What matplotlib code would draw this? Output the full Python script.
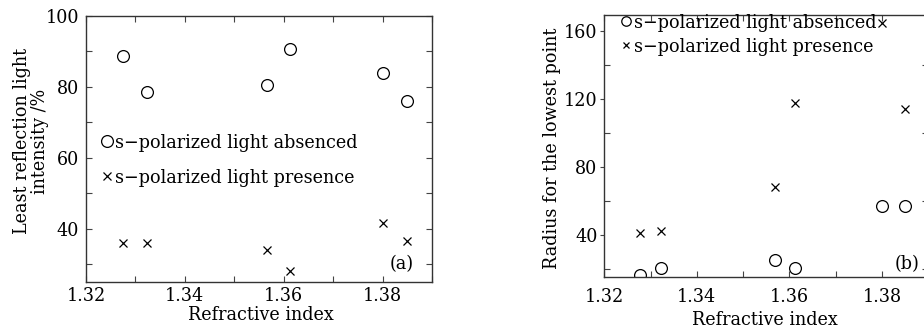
import matplotlib
matplotlib.use("Agg")
import matplotlib.pyplot as plt
from matplotlib.ticker import MultipleLocator

plt.rcParams['font.family'] = ['DejaVu Serif']
plt.rcParams['font.stretch'] = 'condensed'

# Panel (a)
n_a = [1.3275, 1.3323, 1.3567, 1.3613, 1.3800, 1.3849]
absent_a = [88.5, 78.5, 80.6, 90.7, 83.9, 76.0]
present_a = [35.8, 36.0, 33.8, 27.9, 41.5, 36.4]

# Panel (b)
n_b = [1.3278, 1.3323, 1.3568, 1.3613, 1.3800, 1.3850]
absent_b = [16.3, 20.2, 24.9, 20.4, 57.1, 57.1]
present_b = [41.2, 42.5, 68.4, 117.8, 164.5, 114.1]

lab_abs = "s\u2212polarized light absenced"
lab_pre = "s\u2212polarized light presence"

W, H = 924, 333
fig = plt.figure(figsize=(W / 100, H / 100), dpi=100)
fig.patch.set_facecolor('white')

fs = 14

def style(ax):
    for s in ax.spines.values():
        s.set_linewidth(1.0)
        s.set_color('#333333')
    ax.tick_params(which='both', direction='in', top=True, right=True,
                   labelsize=fs, width=0.8, color='#444444')
    ax.tick_params(which='major', length=4)
    ax.tick_params(which='minor', length=4)

# ---- left
x0a, wa, yba, ha_ = 86, 346, 281.7, 266
ax1 = fig.add_axes([x0a / W, (H - yba) / H, wa / W, ha_ / H])
ax1.plot(n_a, absent_a, 'o', mfc='none', mec='black', ms=8.5, mew=0.9, label=lab_abs)
ax1.plot(n_a, present_a, 'x', color='black', ms=6, mew=0.9, label=lab_pre)
ax1.set_xlim(1.32, 1.39)
ax1.set_ylim(25, 100)
ax1.set_xticks([1.32, 1.34, 1.36, 1.38])
ax1.set_xticklabels(['1.32', '1.34', '1.36', '1.38'])
ax1.xaxis.set_minor_locator(MultipleLocator(0.01))
ax1.set_yticks([40, 60, 80, 100])
ax1.yaxis.set_minor_locator(MultipleLocator(10))
style(ax1)
ax1.tick_params(axis='y', pad=5)
ax1.tick_params(axis='x', pad=4)
ax1.set_xlabel("Refractive index", fontsize=fs)
ax1.xaxis.label.set_va('center')
ax1.xaxis.set_label_coords(0.506, (yba - 315) / ha_)
ax1.set_ylabel("Least reflection light\nintensity /%", fontsize=fs, linespacing=1.0)
ax1.yaxis.label.set_va('center')
ax1.yaxis.set_label_coords((31.3 - x0a) / wa, 0.529)
ax1.legend(loc='upper left', bbox_to_anchor=(0.047, 0.555), frameon=False,
           fontsize=fs, handlelength=0.5, handletextpad=0.15, labelspacing=0.86,
           borderpad=0, borderaxespad=0)
ax1.text(0.948, 0.065, "(a)", transform=ax1.transAxes, ha='right', va='center', fontsize=fs)

# ---- right
x0b, wb, ybb, hb = 604.3, 324, 277.3, 262.3
ax2 = fig.add_axes([x0b / W, (H - ybb) / H, wb / W, hb / H])
ax2.plot(n_b, absent_b, 'o', mfc='none', mec='black', ms=8.5, mew=0.9, label=lab_abs)
ax2.plot(n_b, present_b, 'x', color='black', ms=6, mew=0.9, label=lab_pre)
ax2.set_xlim(1.32, 1.39)
ax2.set_ylim(15, 169.5)
ax2.set_xticks([1.32, 1.34, 1.36, 1.38])
ax2.set_xticklabels(['1.32', '1.34', '1.36', '1.38'])
ax2.xaxis.set_minor_locator(MultipleLocator(0.01))
ax2.set_yticks([40, 80, 120, 160])
ax2.yaxis.set_minor_locator(MultipleLocator(20))
style(ax2)
ax2.tick_params(axis='y', which='major', direction='out', length=3, pad=2)
ax2.tick_params(axis='x', pad=8)
ax2.set_xlabel("Refractive index", fontsize=fs)
ax2.xaxis.label.set_va('center')
ax2.xaxis.set_label_coords((765 - x0b) / wb, (ybb - 320) / hb)
ax2.set_ylabel("Radius for the lowest point", fontsize=fs)
ax2.yaxis.label.set_va('center')
ax2.yaxis.set_label_coords((552 - x0b) / wb, (ybb - 148.5) / hb)
ax2.legend(loc='upper left', bbox_to_anchor=(0.053, 1.005), frameon=False,
           fontsize=fs, handlelength=0.5, handletextpad=0.15, labelspacing=0.3,
           borderpad=0, borderaxespad=0, markerscale=0.8)
ax2.text(0.935, 0.05, "(b)", transform=ax2.transAxes, ha='center', va='center', fontsize=fs)

fig.savefig("out.png", dpi=100, facecolor='white')
